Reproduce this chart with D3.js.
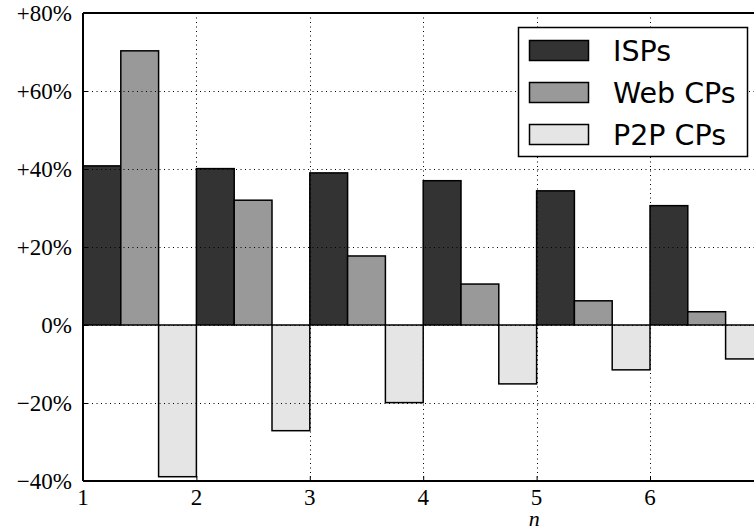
<!DOCTYPE html>
<html><head><meta charset="utf-8">
<script src="https://cdn.jsdelivr.net/npm/d3@7"></script>
<style>
body{margin:0;background:#fff;overflow:hidden}svg{display:block}
</style>
</head><body>
<script>
const categories = [1, 2, 3, 4, 5, 6];
const seriesNames = ["ISPs", "Web CPs", "P2P CPs"];
const ispValues = [40.8, 40.1, 39.0, 37.0, 34.4, 30.6];
const webValues = [70.3, 32.0, 17.7, 10.5, 6.2, 3.4];
const p2pValues = [-38.9, -27.1, -19.9, -15.1, -11.5, -8.7];
const yTicks = [-40, -20, 0, 20, 40, 60, 80];
const xTicks = [1, 2, 3, 4, 5, 6, 7];
const xTickLabels = ["1", "2", "3", "4", "5", "6", ""];
const colors = ["#333333", "#999999", "#e5e5e5"];

(function () {
const W = 754, H = 531;
const SERIF = "'Liberation Serif', 'DejaVu Serif', serif";
const svg = d3.select("body").append("svg").attr("width", W).attr("height", H);
const mLeft = 83, mTop = 13, mBottom = 481;
const x = d3.scaleLinear().domain([1, 7]).range([mLeft, mLeft + 6 * 113.4]);
const y = d3.scaleLinear().domain([-40, 80]).range([mBottom, mTop]);
const yFmt = d => (d > 0 ? "+" : d < 0 ? "\u2212" : "") + Math.abs(d) + "%";

const series = [ispValues, webValues, p2pValues];
const bw = x(1 + 1/3) - x(1);

series.forEach((vals, si) => {
  svg.append("g").selectAll("rect").data(vals).enter().append("rect")
    .attr("x", (d, i) => x(categories[i] + si / 3))
    .attr("width", bw)
    .attr("y", d => y(Math.max(0, d)))
    .attr("height", d => Math.abs(y(d) - y(0)))
    .attr("fill", colors[si])
    .attr("stroke", "#000")
    .attr("stroke-width", 1.5);
});

const grid = svg.append("g").attr("stroke", "#000").attr("stroke-width", 1).attr("stroke-dasharray", "1,3.5");
grid.selectAll("line.h").data(yTicks.slice(1, -1)).enter().append("line")
  .attr("x1", mLeft).attr("x2", W + 20).attr("y1", d => y(d) + 0.5).attr("y2", d => y(d) + 0.5);
grid.selectAll("line.v").data(xTicks.slice(1)).enter().append("line")
  .attr("y1", mTop).attr("y2", mBottom).attr("x1", d => Math.round(x(d)) + 0.5).attr("x2", d => Math.round(x(d)) + 0.5);

// tick marks via d3 axes (inward), labels drawn separately
const gy = svg.append("g").attr("transform", `translate(${mLeft},0)`)
  .call(d3.axisLeft(y).tickValues(yTicks).tickSizeInner(-5).tickSizeOuter(0).tickFormat(() => ""));
gy.select(".domain").remove();
gy.selectAll("line").attr("stroke", "#000").attr("stroke-width", 1);

const gx = svg.append("g").attr("transform", `translate(0,${mBottom})`)
  .call(d3.axisBottom(x).tickValues(xTicks).tickSizeInner(-5).tickSizeOuter(0).tickFormat(() => ""));
gx.select(".domain").remove();
gx.selectAll("line").attr("stroke", "#000").attr("stroke-width", 1);

svg.append("g").selectAll("text").data(yTicks).enter().append("text")
  .attr("x", mLeft - 11).attr("y", d => y(d) + 7.5)
  .attr("text-anchor", "end")
  .attr("font-family", SERIF).attr("font-size", 23).attr("fill", "#000")
  .text(yFmt);

svg.append("g").selectAll("text").data(xTicks).enter().append("text")
  .attr("x", d => x(d)).attr("y", 505)
  .attr("text-anchor", "middle")
  .attr("font-family", SERIF).attr("font-size", 23).attr("fill", "#000")
  .text((d, i) => xTickLabels[i]);

svg.append("line").attr("x1", mLeft).attr("x2", W + 20).attr("y1", mTop).attr("y2", mTop).attr("stroke", "#000").attr("stroke-width", 2);
svg.append("line").attr("x1", mLeft).attr("x2", W + 20).attr("y1", mBottom).attr("y2", mBottom).attr("stroke", "#000").attr("stroke-width", 2);
svg.append("line").attr("x1", mLeft).attr("x2", mLeft).attr("y1", mTop).attr("y2", mBottom).attr("stroke", "#000").attr("stroke-width", 2);

svg.append("text").attr("x", x(4.98)).attr("y", 526).attr("text-anchor", "middle")
  .attr("font-family", SERIF).attr("font-style", "italic")
  .attr("font-size", 22).text("n");

const lg = svg.append("g");
lg.append("rect").attr("x", 518.5).attr("y", 27.5).attr("width", 229).attr("height", 129)
  .attr("fill", "#fff").attr("stroke", "#000").attr("stroke-width", 1.5);
seriesNames.forEach((name, i) => {
  const yy = 40 + i * 42;
  lg.append("rect").attr("x", 529.5).attr("y", yy + 0.5).attr("width", 59).attr("height", 20)
    .attr("fill", colors[i]).attr("stroke", "#000").attr("stroke-width", 1.5);
  lg.append("text").attr("x", 613).attr("y", yy + 21).attr("font-family", "'DejaVu Sans', sans-serif")
    .attr("font-size", 28.5).attr("fill", "#000").text(name);
});
})();
</script>
</body></html>
